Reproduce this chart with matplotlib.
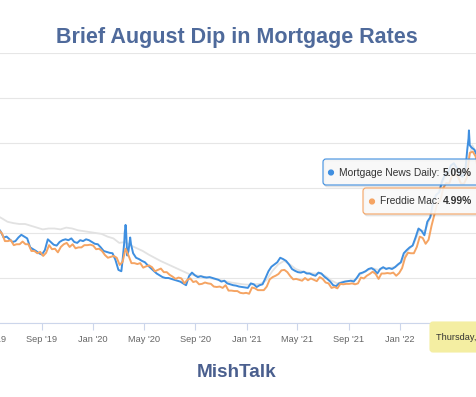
import matplotlib
matplotlib.use("Agg")
import matplotlib.pyplot as plt
import matplotlib.dates as mdates
from matplotlib.patches import FancyBboxPatch, Circle
from matplotlib.transforms import IdentityTransform
from matplotlib.ticker import FuncFormatter
import pandas as pd

W, H = 476, 397
plt.rcParams['font.family'] = ['Liberation Sans', 'DejaVu Sans']

# ---------------- text ----------------
title = "Brief August Dip in Mortgage Rates"
footer = "MishTalk"
series_names = ["Mortgage News Daily", "Freddie Mac"]
tooltip_header = "Thursday, Aug 4, 2022"

# ---------------- data ----------------
# Freddie Mac PMMS 30-yr, weekly (Thursdays)
fm_2019 = [4.14, 4.10, 4.07, 4.06, 3.99, 3.82, 3.82, 3.84, 3.73, 3.75, 3.75, 3.81, 3.75,
           3.75, 3.60, 3.60, 3.55, 3.58, 3.49, 3.56, 3.73, 3.64, 3.65, 3.57, 3.69, 3.75,
           3.78, 3.69, 3.75, 3.66, 3.68, 3.68, 3.73, 3.73, 3.74]
fm_2020 = [3.72, 3.64, 3.65, 3.60, 3.51, 3.45, 3.47, 3.49, 3.45, 3.29, 3.36, 3.65, 3.50,
           3.33, 3.33, 3.31, 3.33, 3.23, 3.26, 3.28, 3.24, 3.15, 3.18, 3.21, 3.13, 3.13,
           3.07, 3.03, 2.98, 3.01, 2.99, 2.88, 2.96, 2.99, 2.91, 2.93, 2.86, 2.87, 2.90,
           2.88, 2.87, 2.81, 2.80, 2.81, 2.78, 2.84, 2.72, 2.72, 2.71, 2.71, 2.67, 2.66, 2.67]
fm_2021 = [2.65, 2.79, 2.77, 2.73, 2.73, 2.73, 2.81, 2.97, 3.02, 3.05, 3.09, 3.17, 3.18,
           3.13, 3.04, 2.97, 2.98, 2.96, 2.94, 3.00, 2.95, 2.99, 2.96, 2.93, 3.02, 2.98,
           2.90, 2.88, 2.78, 2.80, 2.77, 2.87, 2.86, 2.87, 2.87, 2.88, 2.86, 2.88, 3.01,
           2.99, 3.05, 3.09, 3.14, 3.09, 2.98, 3.10, 3.10, 3.11, 3.10, 3.12, 3.05, 3.11]
fm_2022 = [3.22, 3.45, 3.56, 3.55, 3.55, 3.69, 3.92, 3.89, 3.76, 3.85, 4.16, 4.42, 4.67,
           4.72, 5.00, 5.11, 5.10, 5.27, 5.30, 5.25, 5.10, 5.09, 5.23, 5.78, 5.81, 5.70,
           5.30, 5.51, 5.54, 5.30, 4.99]
fm_starts = ["2019-05-02", "2020-01-02", "2021-01-07", "2022-01-06"]

# Mortgage News Daily 30-yr, weekly (Mondays) plus extra days
mnd_2019 = [4.28, 4.20, 4.12, 4.03, 3.90, 3.92, 3.86, 3.80, 3.82, 3.90, 3.96, 3.92, 3.88,
            3.68, 3.64, 3.60, 3.55, 3.52, 3.62, 3.86, 3.80, 3.74, 3.72, 3.80, 3.84, 3.86,
            3.84, 3.88, 3.80, 3.78, 3.84, 3.82, 3.86, 3.84, 3.80]
mnd_2020 = [3.76, 3.75, 3.68, 3.60, 3.58, 3.56, 3.55, 3.40, 3.18, 3.15, 3.80, 3.50, 3.90,
            3.55, 3.45, 3.42, 3.38, 3.35, 3.28, 3.22, 3.16, 3.10, 3.06, 3.02, 3.00, 3.00,
            2.98, 2.96, 2.94, 2.92, 2.88, 2.84, 3.04, 3.12, 3.06, 3.02, 3.04, 3.02, 3.01,
            3.02, 3.00, 2.98, 2.96, 2.92, 2.94, 2.88, 2.86, 2.84, 2.83, 2.81, 2.80, 2.79]
mnd_2021 = [2.78, 2.88, 2.86, 2.80, 2.84, 2.86, 3.00, 3.15, 3.25, 3.30, 3.35, 3.45, 3.42,
            3.38, 3.30, 3.20, 3.16, 3.13, 3.12, 3.14, 3.10, 3.10, 3.07, 3.05, 3.12, 3.10,
            3.03, 2.98, 2.92, 2.84, 2.82, 2.88, 2.90, 2.92, 2.93, 2.94, 2.92, 3.00, 3.10,
            3.12, 3.15, 3.20, 3.22, 3.18, 3.10, 3.20, 3.24, 3.20, 3.22, 3.20, 3.24, 3.30]
mnd_2022 = [3.35, 3.55, 3.62, 3.68, 3.72, 3.90, 4.10, 4.05, 3.95, 4.25, 4.35, 4.70, 4.85,
            4.90, 5.15, 5.30, 5.35, 5.50, 5.55, 5.45, 5.30, 5.25, 5.45, 6.10, 5.90, 5.85,
            5.70, 5.50, 5.65, 5.45, 5.13]
mnd_starts = ["2019-05-06", "2020-01-06", "2021-01-04", "2022-01-03"]
mnd_extra_dates = ["2020-03-12", "2020-03-17", "2020-03-19", "2020-03-20", "2020-03-26",
                   "2020-04-01", "2022-06-10", "2022-06-14", "2022-06-16", "2022-08-04"]
mnd_extra_vals = [3.40, 4.00, 4.18, 4.10, 3.60, 3.75, 5.85, 6.28, 5.95, 5.09]

# third (inactive, faded) series, every two weeks
gray_2019 = [4.45, 4.40, 4.33, 4.25, 4.22, 4.20, 4.20, 4.16, 4.12, 4.08, 4.10, 4.10, 4.08,
             4.12, 4.10, 4.06, 4.04, 4.02]
gray_2020 = [4.00, 3.98, 3.92, 3.88, 3.78, 3.80, 3.72, 3.66, 3.60, 3.52, 3.45, 3.38, 3.32,
             3.26, 3.20, 3.14, 3.08, 3.06, 3.04, 3.01, 2.98, 2.96, 2.93, 2.90, 2.88, 2.86]
gray_2021 = [2.85, 2.86, 2.87, 2.95, 3.15, 3.30, 3.38, 3.30, 3.20, 3.15, 3.12, 3.10, 3.10,
             3.05, 2.95, 2.88, 2.92, 2.93, 2.96, 3.08, 3.16, 3.22, 3.18, 3.22, 3.22, 3.25]
gray_2022 = [3.35, 3.60, 3.75, 4.05, 4.05, 4.40, 4.85, 5.15, 5.35, 5.50, 5.30, 5.45, 5.95,
             5.70, 5.60, 5.20]
gray_starts = ["2019-05-01", "2020-01-08", "2021-01-06", "2022-01-05"]


def build(starts, chunks, step):
    parts = [pd.Series(v, index=pd.date_range(s, periods=len(v), freq=f"{step}D"))
             for s, v in zip(starts, chunks)]
    return pd.concat(parts).sort_index()


fm = build(fm_starts, [fm_2019, fm_2020, fm_2021, fm_2022], 7)
mnd = build(mnd_starts, [mnd_2019, mnd_2020, mnd_2021, mnd_2022], 7)
mnd = pd.concat([mnd, pd.Series(mnd_extra_vals, index=pd.to_datetime(mnd_extra_dates))]).sort_index()
gray = build(gray_starts, [gray_2019, gray_2020, gray_2021, gray_2022], 14)

# ---------------- layout ----------------
C_MND = '#3f8fe0'
C_FM = '#f5a463'
C_GRAY = '#e2e2e2'

fig = plt.figure(figsize=(W / 100, H / 100), dpi=100)
fig.patch.set_facecolor('white')

ax_l_px, ax_r_px, ax_t_px, ax_b_px = -40, 520, 53, 323
ax = fig.add_axes([ax_l_px / W, 1 - ax_b_px / H, (ax_r_px - ax_l_px) / W, (ax_b_px - ax_t_px) / H])

# x mapping anchored on the tick positions of the reference
a_date, a_px = mdates.date2num(pd.Timestamp("2019-09-01")), 41.5
b_date, b_px = mdates.date2num(pd.Timestamp("2022-01-01")), 400.0
ppd = (b_px - a_px) / (b_date - a_date)
ax.set_xlim(a_date + (ax_l_px - a_px) / ppd, a_date + (ax_r_px - a_px) / ppd)
ax.set_ylim(2, 8)

ax.plot(gray.index, gray.values, color=C_GRAY, lw=1.3, zorder=2)
ax.plot(mnd.index, mnd.values, color=C_MND, lw=1.4, zorder=3)
ax.plot(fm.index, fm.values, color=C_FM, lw=1.4, zorder=4)

ax.set_yticks(range(2, 9))
ax.yaxis.grid(True, color='#e6e6e6', lw=0.8)
ax.set_axisbelow(True)
ax.tick_params(axis='y', length=0, labelleft=False)
for s in ('top', 'left', 'right'):
    ax.spines[s].set_visible(False)
ax.spines['bottom'].set_color('#ccd6eb')
ax.spines['bottom'].set_linewidth(0.8)

label_cutoff = mdates.date2num(pd.Timestamp("2022-02-01"))  # later labels sit under the date label


def fmt(x, pos):
    return "" if x > label_cutoff else mdates.num2date(x).strftime("%b '%y")


ax.xaxis.set_major_locator(mdates.MonthLocator(bymonth=(1, 5, 9)))
ax.xaxis.set_major_formatter(FuncFormatter(fmt))
ax.tick_params(axis='x', color='#ccd6eb', labelcolor='#666666', length=5, width=0.8,
               labelsize=6.7, pad=3.5)

# ---------------- titles ----------------
fig.text(237 / W, 1 - 43 / H, title, ha='center', va='baseline', fontsize=15.5,
         fontweight='bold', color='#4f6a9b')
fig.text(237 / W, 1 - 377 / H, footer, ha='center', va='baseline', fontsize=13.6,
         fontweight='bold', color='#4a5f8e')

# ---------------- tooltips (pixel coordinates) ----------------
IT = IdentityTransform()
renderer = fig.canvas.get_renderer()


def box(x0, y0, x1, y1, face, edge, shadow=True):
    if shadow:
        for off, a in ((1, 0.10), (2, 0.05)):
            fig.add_artist(FancyBboxPatch((x0 + off, H - y1 - off), x1 - x0, y1 - y0,
                                          boxstyle="round,pad=0,rounding_size=3",
                                          facecolor='none', edgecolor=(0, 0, 0, a), lw=1,
                                          transform=IT, zorder=9))
    fig.add_artist(FancyBboxPatch((x0, H - y1), x1 - x0, y1 - y0,
                                  boxstyle="round,pad=0,rounding_size=3",
                                  facecolor=face, edgecolor=edge, lw=0.8,
                                  transform=IT, zorder=10))


def tip_text(xdot, xtext, yc, color, name, value):
    fig.add_artist(Circle((xdot, H - yc), 2.4, color=color, transform=IT, zorder=11))
    t = fig.text(xtext, H - yc, f"{name}: ", ha='left', va='center', fontsize=7.4,
                 color='#333333', transform=IT, zorder=11)
    x1 = t.get_window_extent(renderer).x1
    fig.text(x1, H - yc, value, ha='left', va='center', fontsize=7.4, fontweight='bold',
             color='#333333', transform=IT, zorder=11)


mnd_last = mnd.iloc[-1]
fm_last = fm.iloc[-1]

box(323, 159, 520, 185, (0.97, 0.97, 0.97, 0.85), C_MND)
tip_text(331, 339, 172.5, C_MND, series_names[0], f"{mnd_last:.2f}%")
box(363, 188, 520, 214, (0.975, 0.975, 0.975, 0.9), C_FM)
tip_text(372, 380, 201.5, C_FM, series_names[1], f"{fm_last:.2f}%")

box(430, 322, 540, 352, '#f4eea2', '#f4eea2', shadow=False)
fig.text(436, H - 337.5, tooltip_header, ha='left', va='center', fontsize=6.6,
         color='#333333', transform=IT, zorder=11)

fig.savefig("out.png", dpi=100, facecolor='white')
